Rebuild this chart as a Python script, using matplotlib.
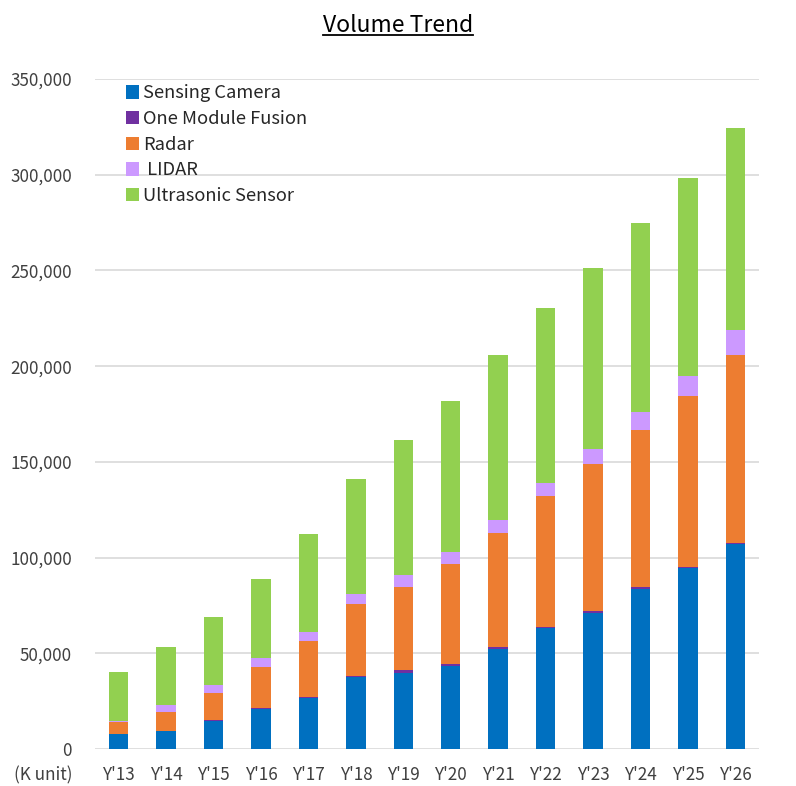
import numpy as np
import matplotlib
matplotlib.use("Agg")
import matplotlib.pyplot as plt
from matplotlib.lines import Line2D

plt.rcParams['font.family'] = ['Noto Sans CJK JP', 'DejaVu Sans']

# data (K unit)
years = ["Y'13", "Y'14", "Y'15", "Y'16", "Y'17", "Y'18", "Y'19",
         "Y'20", "Y'21", "Y'22", "Y'23", "Y'24", "Y'25", "Y'26"]
camera = [7800, 9400, 14600, 20900, 26900, 37700, 39800, 43400, 52100, 63000, 71000, 83700, 94700, 106900]
fusion = [0, 100, 500, 600, 400, 600, 1500, 1200, 1000, 500, 1000, 800, 600, 700]
radar = [6300, 9900, 14300, 21100, 28900, 37400, 43500, 51900, 59600, 68600, 76700, 82000, 88900, 98300]
lidar = [700, 3500, 3800, 4700, 5000, 5200, 6100, 6200, 6900, 6800, 8100, 9500, 10600, 13200]
ultrasonic = [25600, 30600, 35500, 41600, 51300, 60100, 70500, 79200, 86100, 91600, 94400, 99000, 103300, 105400]

series = [
    ("Sensing Camera", camera, "#0070C0"),
    ("One Module Fusion", fusion, "#7030A0"),
    ("Radar", radar, "#ED7D31"),
    (" LIDAR", lidar, "#CC99FF"),
    ("Ultrasonic Sensor", ultrasonic, "#92D050"),
]

fig = plt.figure(figsize=(7.96, 7.86), dpi=100)
ax = fig.add_axes([95/796, 37/786, 664/796, 670/786])

x = np.arange(len(years))
bottom = np.zeros(len(years))
for name, vals, col in series:
    ax.bar(x, vals, 0.41, bottom=bottom, color=col, label=name, zorder=3)
    bottom += np.array(vals)

ax.set_xlim(-0.5, len(years) - 0.5)
ax.set_ylim(0, 350000)
ax.set_yticks(np.arange(0, 350001, 50000))
ax.yaxis.set_major_formatter(matplotlib.ticker.FuncFormatter(lambda v, p: f"{int(v):,}"))
ax.set_xticks(x)
ax.set_xticklabels(years)
ax.grid(axis='y', color='#D9D9D9', linewidth=1.2, zorder=0)
for s in ax.spines.values():
    s.set_visible(False)
ax.tick_params(length=0, labelsize=12.3, colors='#404040')
ax.tick_params(axis='y', pad=16.5)
ax.tick_params(axis='x', pad=12)

fig.text(72/796, 1 - 775/786, "(K unit)", ha='right', va='center',
         fontsize=12.3, color='#404040')

leg = ax.legend(loc='upper left', bbox_to_anchor=(0.035, 1.003), frameon=False,
                fontsize=13.2, handlelength=0.75, handleheight=0.75,
                handletextpad=0.2, labelspacing=0.42, borderaxespad=0.0)
for t in leg.get_texts():
    t.set_color('#262626')

# underlined title
title = fig.text(0.5, 1 - 25/786, "Volume Trend", ha='center', va='center',
                 fontsize=16.5, color='#000000')
fig.canvas.draw()
bb = title.get_window_extent().transformed(fig.transFigure.inverted())
fig.add_artist(Line2D([bb.x0, bb.x1], [bb.y0 + 0.002, bb.y0 + 0.002],
                      transform=fig.transFigure, color='black', linewidth=1.3))

fig.savefig("out.png", dpi=100)
